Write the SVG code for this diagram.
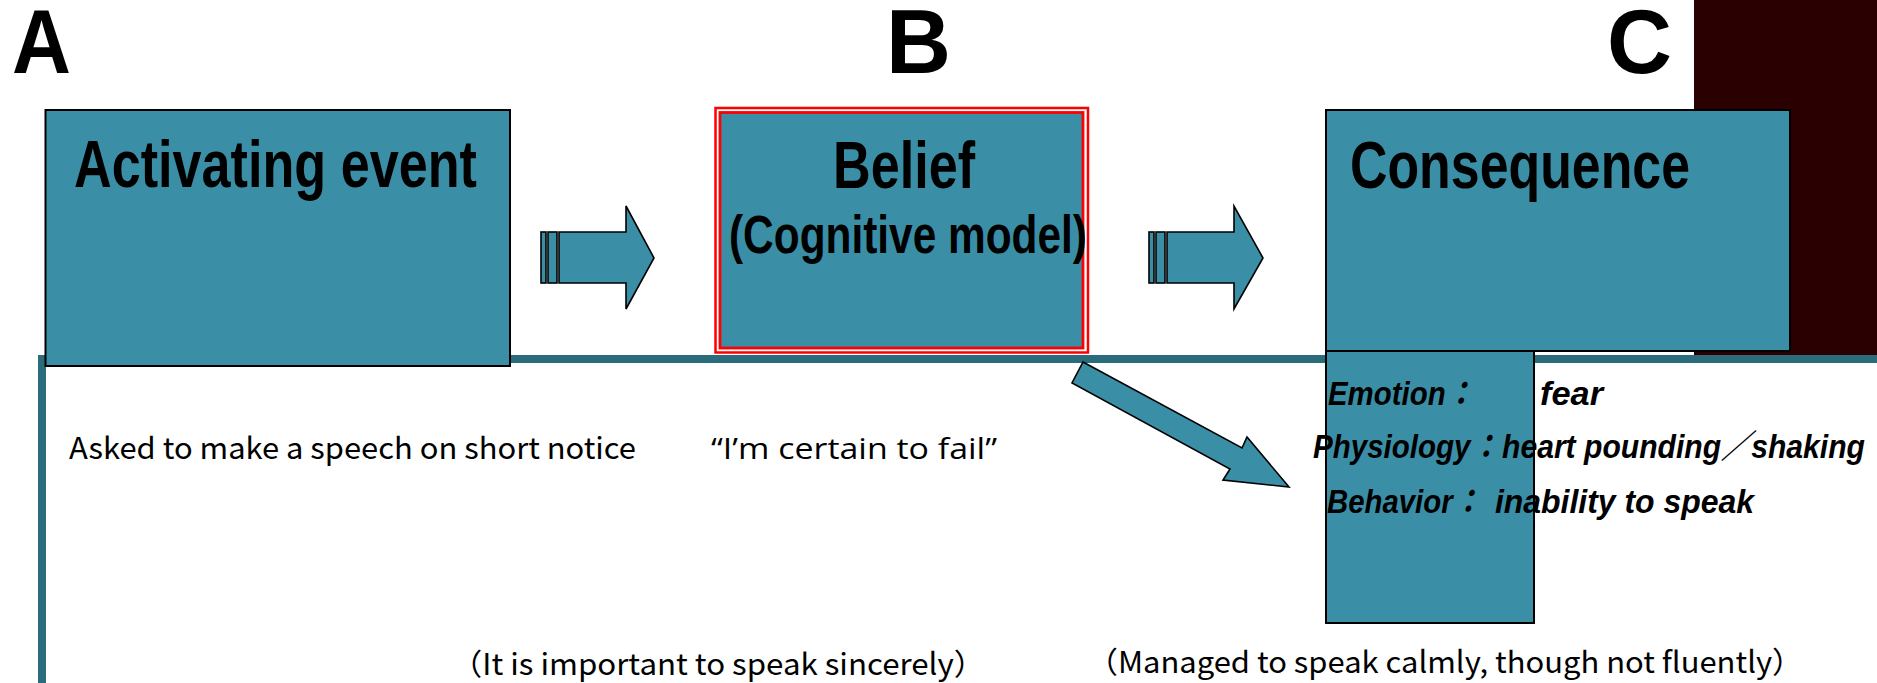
<svg xmlns="http://www.w3.org/2000/svg" width="1877" height="683" viewBox="0 0 1877 683">
  <style>
    .box { fill: #3a8fa7; stroke: #000; stroke-width: 2; }
    .arrow { fill: #3a8fa7; stroke: #000; stroke-width: 1.6; stroke-linejoin: miter; }
    .rule { fill: #2a6b7c; }
    .letter { font-family: "Liberation Sans", Arial, sans-serif; font-weight: bold; font-size: 90px; fill: #000; }
    .title { font-family: "Liberation Sans", Arial, sans-serif; font-weight: bold; font-size: 66px; fill: #000; }
    .sub { font-family: "Liberation Sans", Arial, sans-serif; font-weight: bold; font-size: 53px; fill: #000; }
    .pop { font-family: "Liberation Sans", "Noto Sans CJK JP", sans-serif; font-weight: bold; font-style: italic; font-size: 33px; fill: #000; }
    .note { font-family: "Noto Sans CJK JP", "Open Sans", sans-serif; font-size: 30px; fill: #000; }
    .quote { font-family: "Open Sans", "Noto Sans CJK JP", sans-serif; font-size: 30px; fill: #000; }
  </style>

  <!-- background panel and frame rules -->
  <g id="backdrop">
    <rect x="1694" y="0" width="183" height="355" fill="#2b0000"/>
    <rect class="rule" x="38" y="355" width="1839" height="8"/>
    <rect class="rule" x="38" y="355" width="8" height="328"/>
  </g>

  <!-- column headings -->
  <g id="headings">
    <text class="letter" x="12" y="73" textLength="59" lengthAdjust="spacingAndGlyphs">A</text>
    <text class="letter" x="886" y="73">B</text>
    <text class="letter" x="1607" y="73">C</text>
  </g>

  <!-- A: activating event -->
  <g id="node-a">
    <rect class="box" x="45.5" y="110" width="464.5" height="256"/>
    <text class="title" x="74" y="187" textLength="403" lengthAdjust="spacingAndGlyphs">Activating event</text>
    <text class="note" x="69" y="459" textLength="567" lengthAdjust="spacingAndGlyphs">Asked to make a speech on short notice</text>
  </g>

  <!-- B: belief, double red border -->
  <g id="node-b">
    <rect x="715.5" y="108" width="372.5" height="244.5" fill="#fff" stroke="#ff0000" stroke-width="2.5"/>
    <rect x="720" y="112.5" width="363" height="235.5" fill="#3a8fa7" stroke="#ff0000" stroke-width="2.8"/>
    <text class="title" x="833" y="188" textLength="142" lengthAdjust="spacingAndGlyphs">Belief</text>
    <text class="sub" x="729" y="253" textLength="358" lengthAdjust="spacingAndGlyphs">(Cognitive model)</text>
    <text class="quote" x="711" y="459" textLength="286" lengthAdjust="spacingAndGlyphs">“I’m certain to fail”</text>
    <text class="note" x="451" y="675" textLength="534" lengthAdjust="spacingAndGlyphs">（It is important to speak sincerely）</text>
  </g>

  <!-- C: consequence, T-shaped block -->
  <g id="node-c">
    <rect class="box" x="1326" y="110" width="464" height="241"/>
    <rect class="box" x="1326" y="351" width="208" height="272"/>
    <text class="title" x="1350" y="188" textLength="340" lengthAdjust="spacingAndGlyphs">Consequence</text>
    <text class="pop" x="1328" y="405" textLength="147" lengthAdjust="spacingAndGlyphs">Emotion：</text>
    <text class="pop" x="1540" y="405" textLength="63" lengthAdjust="spacingAndGlyphs">fear</text>
    <text class="pop" x="1313" y="458" textLength="187" lengthAdjust="spacingAndGlyphs">Physiology：</text>
    <text class="pop" x="1502" y="458" textLength="363" lengthAdjust="spacingAndGlyphs">heart pounding／shaking</text>
    <text class="pop" x="1327" y="513" textLength="155" lengthAdjust="spacingAndGlyphs">Behavior：</text>
    <text class="pop" x="1495" y="513" textLength="259" lengthAdjust="spacingAndGlyphs">inability to speak</text>
    <text class="note" x="1087" y="673" textLength="716" lengthAdjust="spacingAndGlyphs">（Managed to speak calmly, though not fluently）</text>
  </g>

  <!-- connectors: block arrows between stages -->
  <g id="connectors">
    <g id="arrow-ab">
      <rect class="arrow" x="541" y="232" width="5" height="51"/>
      <rect class="arrow" x="548" y="232" width="9" height="51"/>
      <polygon class="arrow" points="559,232 626,232 626,206 654,258 626,309 626,283 559,283"/>
    </g>
    <g id="arrow-bc">
      <rect class="arrow" x="1149" y="232" width="5" height="51"/>
      <rect class="arrow" x="1156" y="232" width="9" height="51"/>
      <polygon class="arrow" points="1167,232 1234,232 1234,206 1263,258 1234,309 1234,283 1167,283"/>
    </g>
    <polygon id="arrow-b-down" class="arrow" points="1083,362 1242,448 1247,437 1289,487 1223,480 1230,469 1072,383"/>
  </g>
</svg>
